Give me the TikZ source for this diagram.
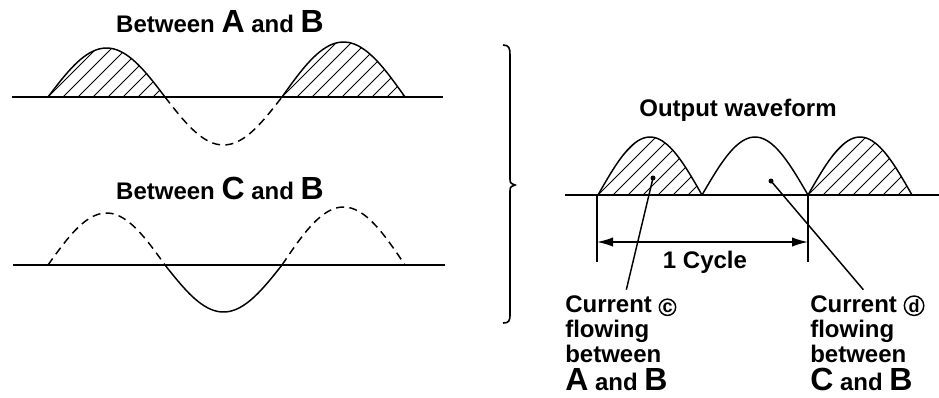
\documentclass[tikz,border=0pt]{standalone}
\usepackage{fontspec}
\setmainfont{Liberation Sans}
\usetikzlibrary{arrows.meta}

\tikzset{
  axisline/.style={line width=1.5pt},
  wave/.style={line width=1.1pt},
  ghost/.style={line width=1.1pt, dash pattern=on 6pt off 4pt},
  hatch/.style={line width=0.7pt},
  caption/.style={font=\fontsize{18}{19}\selectfont\bfseries, inner sep=0pt},
  callout/.style={caption, align=left, anchor=north west},
}
\newcommand{\biglet}[1]{{\fontsize{24}{19}\selectfont #1}}
\newcommand{\ringlet}[1]{\tikz[baseline=(rl.base)]\node[circle,draw,line width=1.1pt,inner sep=0.6pt,font=\fontsize{13.5}{13.5}\selectfont\bfseries](rl){#1};}

\begin{document}
\begin{tikzpicture}[x=0.75pt,y=-0.75pt]
\useasboundingbox (0,0) rectangle (939,397);

% upper left: between A and B
\node[caption] (tAB) at (220,22) {Between \biglet{A} and \biglet{B}};
\draw[axisline] (12,97) -- (443,97);
\begin{scope}
\clip plot[domain=48:165,samples=40] (\x,{97-49*sin((\x-48)/117*180)}) -- cycle;
\foreach \k in {0,...,12} \draw[hatch] (48+15*\k-60,97) -- ++(60,-60);
\end{scope}
\begin{scope}
\clip plot[domain=282:405,samples=40] (\x,{97-55*sin((\x-282)/123*180)}) -- cycle;
\foreach \k in {0,...,12} \draw[hatch] (282+15*\k-60,97) -- ++(60,-60);
\end{scope}
\draw[wave] plot[domain=48:165,samples=40] (\x,{97-49*sin((\x-48)/117*180)});
\draw[wave] plot[domain=282:405,samples=40] (\x,{97-55*sin((\x-282)/123*180)});
\draw[ghost] plot[domain=165:282,samples=40] (\x,{97+48*sin((\x-165)/117*180)});

% lower left: between C and B
\node[caption] (tCB) at (220,188) {Between \biglet{C} and \biglet{B}};
\draw[axisline] (13,265) -- (445,265);
\draw[ghost] plot[domain=48:165,samples=40] (\x,{265-52*sin((\x-48)/117*180)});
\draw[ghost] plot[domain=282:405,samples=40] (\x,{265-58*sin((\x-282)/123*180)});
\draw[wave] plot[domain=165:282,samples=40] (\x,{265+47*sin((\x-165)/117*180)});

% brace
\draw[line width=1.2pt] (503,45) .. controls (509,45) and (510,48) .. (510,55)
  -- (510,178) .. controls (510,183) .. (515,185)
  .. controls (510,187) .. (510,192) -- (510,314)
  .. controls (510,321) and (509,323) .. (503,323);

% right: output waveform
\node[caption] (tOut) at (738,110) {Output waveform};
\draw[axisline] (565,195) -- (939,195);
\begin{scope}
\clip plot[domain=598:702,samples=40] (\x,{195-58*sin((\x-598)/104*180)}) -- cycle;
\foreach \k in {0,...,11} \draw[hatch] (598+15*\k-60,195) -- ++(70,-70);
\end{scope}
\begin{scope}
\clip plot[domain=808:912,samples=40] (\x,{195-58*sin((\x-808)/104*180)}) -- cycle;
\foreach \k in {0,...,11} \draw[hatch] (808+15*\k-60,195) -- ++(70,-70);
\end{scope}
\draw[wave] plot[domain=598:702,samples=40] (\x,{195-58*sin((\x-598)/104*180)});
\draw[wave] plot[domain=702:808,samples=40] (\x,{195-58*sin((\x-702)/106*180)});
\draw[wave] plot[domain=808:912,samples=40] (\x,{195-58*sin((\x-808)/104*180)});

% one cycle
\coordinate (ca) at (597,195);
\coordinate (cb) at (808,195);
\draw[wave] (ca) -- ++(0,67) coordinate (ca2);
\draw[wave] (cb) -- ++(0,67) coordinate (cb2);
\draw[wave, {Latex[length=12pt,width=7pt]}-{Latex[length=12pt,width=7pt]}]
  ([yshift=15pt]ca2) -- ([yshift=15pt]cb2);
\node[caption] (cyc) at (705,262) {1 Cycle};

% currents
\node[callout] (lc) at (565,295) {Current \ringlet{c}\\flowing\\between\\[2pt]\biglet{A} and \biglet{B}};
\node[callout] (ld) at (810,295) {Current \ringlet{d}\\flowing\\between\\[2pt]\biglet{C} and \biglet{B}};
\coordinate (dc) at (653,178);
\coordinate (dd) at (771,181);
\fill (dc) circle (2.5);
\fill (dd) circle (2.5);
\draw[wave] (dc) -- ([xshift=46pt,yshift=4pt]lc.north west);
\draw[wave] (dd) -- ([xshift=40pt,yshift=4pt]ld.north west);
\end{tikzpicture}
\end{document}
